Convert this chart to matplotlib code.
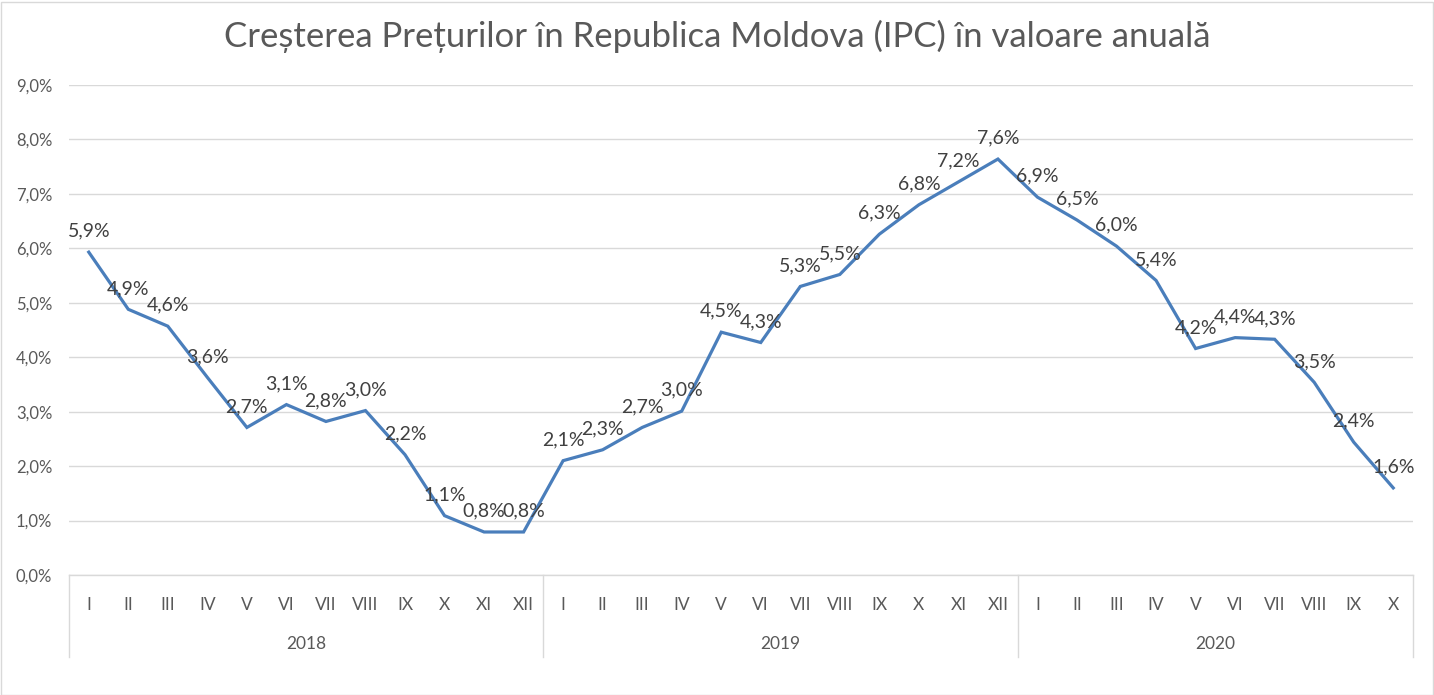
import matplotlib
matplotlib.use("Agg")
import matplotlib.pyplot as plt
import matplotlib.transforms as mtransforms

plt.rcParams['font.family'] = ['Lato', 'DejaVu Sans']

title = "Creșterea Prețurilor în Republica Moldova (IPC) în valoare anuală"
years = ["2018", "2019", "2020"]
months_2018 = ["I", "II", "III", "IV", "V", "VI", "VII", "VIII", "IX", "X", "XI", "XII"]
months_2019 = ["I", "II", "III", "IV", "V", "VI", "VII", "VIII", "IX", "X", "XI", "XII"]
months_2020 = ["I", "II", "III", "IV", "V", "VI", "VII", "VIII", "IX", "X"]
values_2018 = [5.93, 4.88, 4.57, 3.63, 2.71, 3.13, 2.82, 3.02, 2.21, 1.09, 0.79, 0.79]
values_2019 = [2.10, 2.30, 2.71, 3.01, 4.46, 4.27, 5.30, 5.52, 6.26, 6.80, 7.22, 7.64]
values_2020 = [6.94, 6.52, 6.04, 5.41, 4.16, 4.36, 4.33, 3.54, 2.44, 1.60]
y_ticks = [0, 1, 2, 3, 4, 5, 6, 7, 8, 9]

months = months_2018 + months_2019 + months_2020
values = values_2018 + values_2019 + values_2020
group_sizes = [len(months_2018), len(months_2019), len(months_2020)]
x = list(range(len(months)))

W, H = 1434, 695
fig = plt.figure(figsize=(W / 100, H / 100), dpi=100)
ax = fig.add_axes([69 / W, (H - 575) / H, (1413 - 69) / W, (575 - 85) / H])

line_color = "#4a7ebb"
grid_color = "#d9d9d9"
tick_color = "#595959"
label_color = "#404040"

ax.plot(x, values, color=line_color, lw=2.3, solid_joinstyle='miter', zorder=3)

for xi, v in zip(x, values):
    ax.annotate(f"{v:.1f}%".replace(".", ","), (xi, v), xytext=(0, 15),
                textcoords="offset points", ha="center", va="center",
                fontsize=14, color=label_color, zorder=4)

ax.set_xlim(-0.5, len(months) - 0.5)
ax.set_ylim(0, 9)
ax.set_yticks(y_ticks)
ax.set_yticklabels([f"{t:.1f}%".replace(".", ",") for t in y_ticks])
ax.yaxis.grid(True, color=grid_color, lw=1.0)
ax.set_axisbelow(True)
for s in ["top", "right", "left"]:
    ax.spines[s].set_visible(False)
ax.spines["bottom"].set_color(grid_color)
ax.spines["bottom"].set_linewidth(1.0)
ax.tick_params(axis="y", length=0, pad=12, labelsize=12, labelcolor=tick_color)
ax.set_xticks(x)
ax.set_xticklabels(months)
ax.tick_params(axis="x", length=0, pad=16, labelsize=12.5, labelcolor=tick_color)

# second-level category axis
trans = mtransforms.blended_transform_factory(ax.transData, ax.transAxes)
depth = (657 - 575) / (575 - 85)
bounds = [-0.5]
for g in group_sizes:
    bounds.append(bounds[-1] + g)
for b in bounds:
    ax.plot([b, b], [0, -depth], transform=trans, color=grid_color, lw=1.0, clip_on=False)
year_y = -(644 - 575) / (575 - 85)
for i, yr in enumerate(years):
    ax.text((bounds[i] + bounds[i + 1]) / 2, year_y, yr, transform=trans,
            ha="center", va="center", fontsize=12.5, color=tick_color)

fig.text(0.5, 1 - 36 / H, title, ha="center", va="center", fontsize=25, color=tick_color)

# chart border
fig.patches.append(plt.Rectangle((0.5 / W, 0.5 / H), (W - 2) / W, (H - 2) / H,
                                 transform=fig.transFigure, fill=False,
                                 edgecolor=grid_color, lw=1.0))

fig.savefig("out.png", dpi=100, facecolor="white")
